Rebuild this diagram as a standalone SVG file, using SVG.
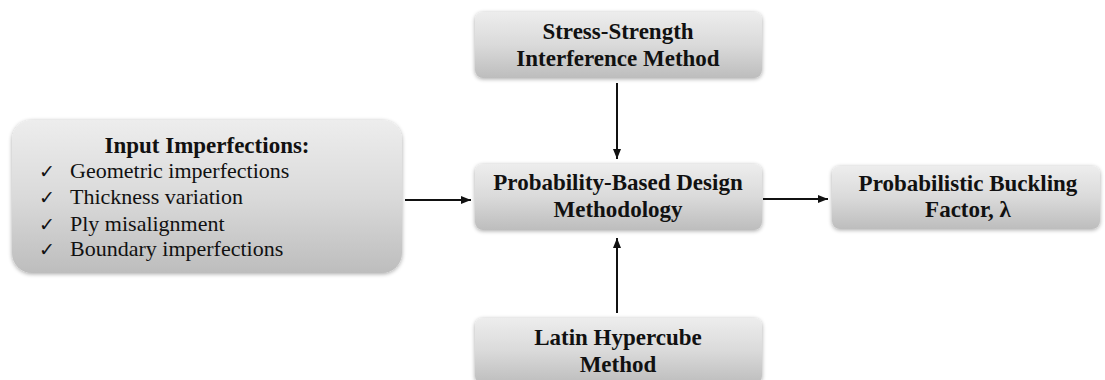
<svg xmlns="http://www.w3.org/2000/svg" width="1105" height="380" viewBox="0 0 1105 380">
<defs>
<linearGradient id="g" x1="0" y1="0" x2="0" y2="1">
<stop offset="0" stop-color="#ededed"/>
<stop offset="0.5" stop-color="#dadada"/>
<stop offset="1" stop-color="#bdbdbd"/>
</linearGradient>
<filter id="sh" x="-10%" y="-20%" width="120%" height="140%">
<feGaussianBlur in="SourceAlpha" stdDeviation="2"/>
<feOffset dx="0" dy="1" result="b"/>
<feComponentTransfer><feFuncA type="linear" slope="0.35"/></feComponentTransfer>
<feMerge><feMergeNode/><feMergeNode in="SourceGraphic"/></feMerge>
</filter>
<marker id="ah" viewBox="0 0 10 10" refX="10" refY="5" markerWidth="10" markerHeight="10" markerUnits="userSpaceOnUse" orient="auto">
<path d="M0,1 L10,5 L0,9 z" fill="#111"/>
</marker>
</defs>
<style>
.box{fill:url(#g);filter:url(#sh)}
.t{font-family:'Liberation Serif','Times New Roman',serif;font-size:23px;font-weight:bold;fill:#111;text-anchor:middle}
.i{font-family:'Liberation Serif','Times New Roman',serif;font-size:22px;font-weight:normal;fill:#111}
.c{font-family:'DejaVu Sans',sans-serif;font-size:19px;fill:#111}
.a{stroke:#111;stroke-width:2;fill:none;marker-end:url(#ah)}
</style>
<rect width="1105" height="380" fill="#fff"/>
<g id="input">
<rect class="box" x="12" y="120" width="390" height="153" rx="20"/>
<text class="t" x="207" y="153">Input Imperfections:</text>
<text class="c" x="39" y="178">✓</text><text class="i" font-family="Liberation Serif, serif" x="70" y="178">Geometric imperfections</text>
<text class="c" x="39" y="204">✓</text><text class="i" font-family="Liberation Serif, serif" x="70" y="204">Thickness variation</text>
<text class="c" x="39" y="231">✓</text><text class="i" font-family="Liberation Serif, serif" x="70" y="231">Ply misalignment</text>
<text class="c" x="39" y="256">✓</text><text class="i" font-family="Liberation Serif, serif" x="70" y="256">Boundary imperfections</text>
</g>
<g id="stress">
<rect class="box" x="475" y="12" width="287" height="66" rx="8"/>
<text class="t" x="618" y="39">Stress-Strength</text>
<text class="t" x="618" y="66">Interference Method</text>
</g>
<g id="pbdm">
<rect class="box" x="475" y="164" width="287" height="66" rx="8"/>
<text class="t" x="618" y="190">Probability-Based Design</text>
<text class="t" x="618" y="217">Methodology</text>
</g>
<g id="factor">
<rect class="box" x="832" y="166" width="268" height="63" rx="8"/>
<text class="t" x="968" y="191">Probabilistic Buckling</text>
<text class="t" x="968" y="217">Factor, λ</text>
</g>
<g id="lhs">
<rect class="box" x="475" y="318" width="287" height="66" rx="8"/>
<text class="t" x="618" y="345">Latin Hypercube</text>
<text class="t" x="618" y="372">Method</text>
</g>
<g id="connectors">
<line class="a" x1="617" y1="83" x2="617" y2="159"/>
<line class="a" x1="617" y1="313" x2="617" y2="238"/>
<line class="a" x1="405" y1="200" x2="471" y2="200"/>
<line class="a" x1="763" y1="199" x2="828" y2="199"/>
</g>
</svg>
